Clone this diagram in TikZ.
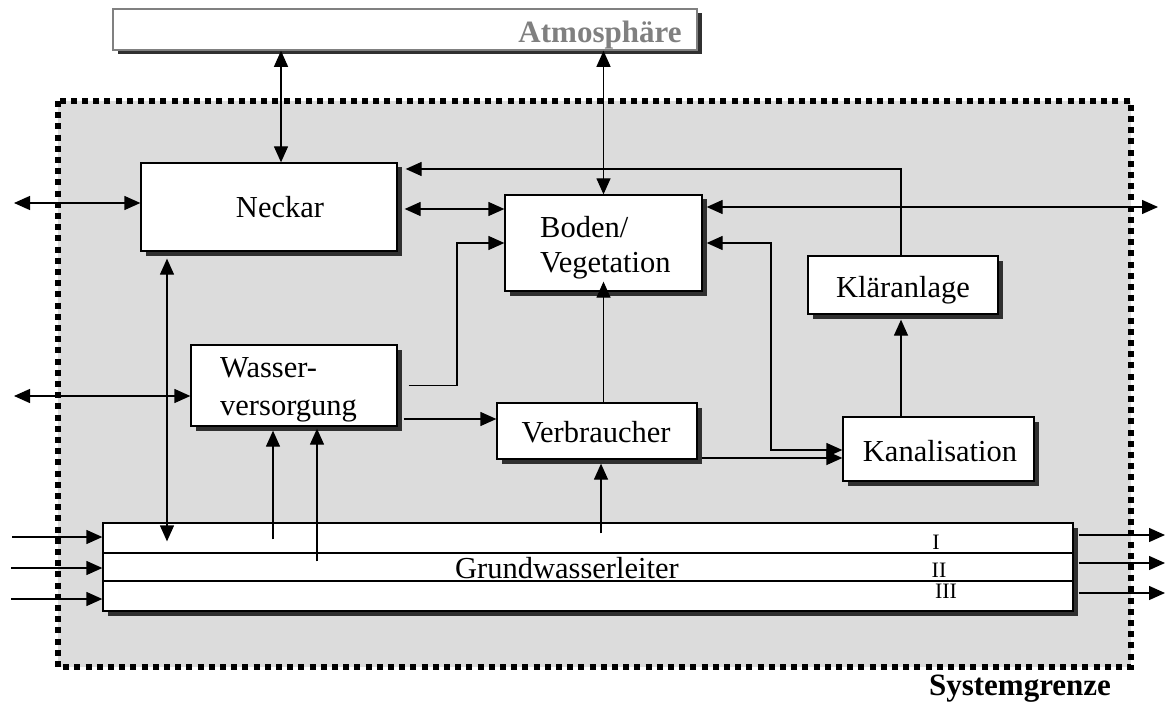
\documentclass[tikz,border=0pt]{standalone}
\usepackage{fontspec}
\setmainfont{Liberation Serif}
\usetikzlibrary{arrows.meta,shadows,calc}

\definecolor{zone}{RGB}{220,220,220}
\definecolor{shade}{RGB}{48,48,48}
\definecolor{atmgray}{RGB}{128,128,128}

\tikzset{
  box/.style={draw=black, line width=1.3pt, fill=white, inner sep=0pt,
    general shadow={fill=shade, shadow xshift=4.5pt, shadow yshift=-4.5pt}},
  atmbox/.style={box, draw=atmgray, line width=1.6pt},
  lbl/.style={font=\fontsize{30.5}{36}\selectfont, inner sep=0pt, anchor=base},
  lbll/.style={lbl, anchor=base west},
  layer/.style={font=\fontsize{22}{24}\selectfont, inner sep=0pt, anchor=base},
  heading/.style={font=\fontsize{31}{36}\selectfont\bfseries, inner sep=0pt, anchor=base},
  conn/.style={line width=1.3pt},
  tip/.tip={Triangle[length=16pt,width=14pt]},
  flow/.style={conn, -tip},
  both/.style={conn, tip-tip},
  border/.style={line width=5.5pt, dash pattern=on 6pt off 5.2pt},
}

\begin{document}
\begin{tikzpicture}[x=1pt,y=-1pt]
\useasboundingbox (0,0) rectangle (1166,711);

% system boundary
\fill[zone] (58,101) rectangle (1131,667);
\draw[border] (58,101) rectangle (1131,667);

% blocks
\node[atmbox, minimum width=584pt, minimum height=41pt] (atm) at (405,29.5) {};
\node[box, minimum width=256pt, minimum height=88pt] (neckar) at (269,207) {};
\node[box, minimum width=197pt, minimum height=96pt] (boden) at (603.5,243) {};
\node[box, minimum width=190pt, minimum height=58pt] (klaer) at (903,285) {};
\node[box, minimum width=206pt, minimum height=81pt] (wasser) at (294,385.5) {};
\node[box, minimum width=200pt, minimum height=56pt] (verbr) at (597,431) {};
\node[box, minimum width=191pt, minimum height=64pt] (kanal) at (938.5,449) {};
\node[box, minimum width=970pt, minimum height=88pt] (gw) at (588,567) {};

% aquifer layers
\draw[conn] (gw.west |- 0,553) -- (gw.east |- 0,553);
\draw[conn] (gw.west |- 0,581) -- (gw.east |- 0,581);

% labels
\node[heading, text=atmgray] (atmtxt) at (600,43) {Atmosphäre};
\node[lbl] (neckartxt) at (280,218) {Neckar};
\node[lbll] (bodentxt) at (540,237) {Boden/};
\node[lbll] (vegtxt) at (540,272.5) {Vegetation};
\node[lbl] (klaertxt) at (903,297) {Kläranlage};
\node[lbll] (wassertxt) at (220,377.5) {Wasser-};
\node[lbll] (versorgtxt) at (220,415) {versorgung};
\node[lbl] (verbrtxt) at (596,442) {Verbraucher};
\node[lbl] (kanaltxt) at (940,461) {Kanalisation};
\node[lbll] (gwtxt) at (455,578) {Grundwasserleiter};
\node[layer] (l1) at (936,549) {I};
\node[layer] (l2) at (939,577) {II};
\node[layer] (l3) at (946,598) {III};
\node[heading] (sysgr) at (1020,695) {Systemgrenze};

% free ends outside the system
\coordinate (inN) at (14,203);
\coordinate (inW) at (14,396);
\coordinate (outB) at (1158,207);
\coordinate (in1) at (12,537);
\coordinate (in2) at (11,568);
\coordinate (in3) at (11,599);
\coordinate (out1) at (1165,535);
\coordinate (out2) at (1165,563);
\coordinate (out3) at (1165,593);

% exchanges with the atmosphere
\draw[both] (atm.south -| 281,0) -- (neckar.north -| 281,0);
\draw[both] (atm.south -| boden.north) -- (boden.north);

% Neckar
\draw[both] (inN) -- (neckar.west |- inN);
\draw[both] ($(neckar.east |- 0,209)+(7,0)$) -- (boden.west |- 0,209);
\draw[flow] (klaer.north -| 901,0) |- ($(neckar.east)+(8,-38)$);
\draw[both] ($(neckar.south -| 167,0)+(0,7)$) -- ($(gw.north -| 167,0)+(0,19)$);

% soil / vegetation
\draw[both] ($(boden.east |- outB)+(4,0)$) -- (outB);
\draw[both] ($(boden.east)+(4,0)$) -| (771,450) -- (kanal.west |- 0,450);
\draw[flow] (verbr.north -| boden.south) -- ($(boden.south)+(0,-10)$);

% water supply
\draw[both] (inW) -- (wasser.west |- inW);
\draw[flow] ($(wasser.east)+(11,0)$) -| (457,243) -- (boden.west);
\draw[flow] ($(wasser.east |- 0,419)+(6,0)$) -- (verbr.west |- 0,419);

% consumers and sewage
\draw[flow] ($(verbr.east |- 0,458)+(4,0)$) -- (kanal.west |- 0,458);
\draw[flow] (kanal.north -| 901,0) -- ($(klaer.south -| 901,0)+(0,5)$);

% groundwater
\draw[flow] ($(gw.north -| 273,0)+(0,17)$) -- ($(wasser.south -| 273,0)+(0,4)$);
\draw[flow] ($(gw.north -| 317,0)+(0,39)$) -- ($(wasser.south -| 317,0)+(0,2)$);
\draw[flow] ($(gw.north -| 601,0)+(0,11)$) -- ($(verbr.south -| 601,0)+(0,4)$);
\draw[flow] (in1) -- (gw.west |- in1);
\draw[flow] (in2) -- (gw.west |- in2);
\draw[flow] (in3) -- (gw.west |- in3);
\draw[flow] ($(gw.east |- out1)+(5,0)$) -- (out1);
\draw[flow] ($(gw.east |- out2)+(5,0)$) -- (out2);
\draw[flow] ($(gw.east |- out3)+(5,0)$) -- (out3);
\end{tikzpicture}
\end{document}
